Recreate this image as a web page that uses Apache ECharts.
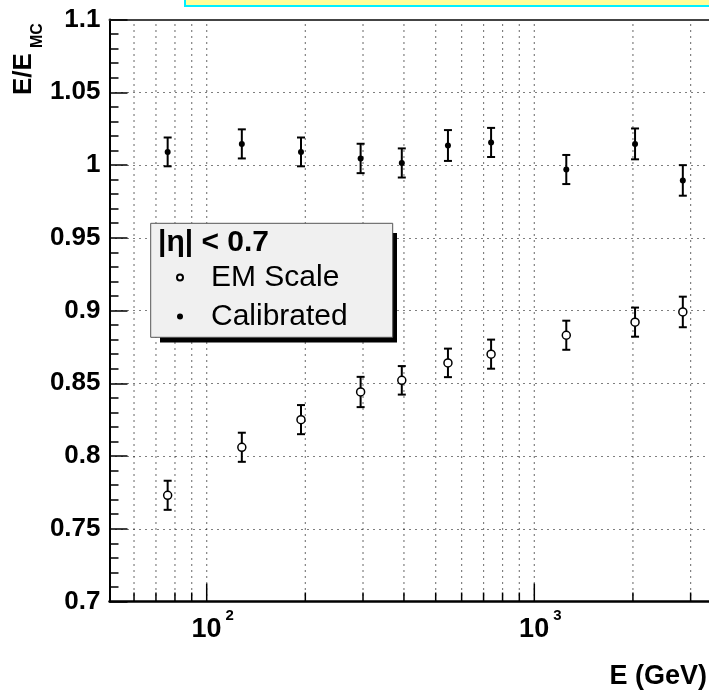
<!DOCTYPE html>
<html>
<head>
<meta charset="utf-8">
<title>E/E_MC vs E</title>
<script src="https://cdn.jsdelivr.net/npm/echarts@6.0.0/dist/echarts.min.js"></script>
<style>
    html, body { margin: 0; padding: 0; overflow: hidden; background: #fff; }
    #main { width: 800px; height: 691px; }
</style>
</head>
<body>
<div id="main"></div>
<script>
// data
var energy     = [76, 128, 194, 295, 394, 545, 738, 1252, 2030, 2840];
var emScale    = [0.773, 0.806, 0.825, 0.844, 0.852, 0.864, 0.870, 0.883, 0.892, 0.899];
var emErr      = [0.010, 0.010, 0.010, 0.0104, 0.0098, 0.0098, 0.010, 0.010, 0.010, 0.0105];
var calibrated = [1.009, 1.0145, 1.009, 1.0045, 1.0014, 1.0134, 1.0155, 0.9969, 1.0145, 0.9894];
var calErr     = [0.0099, 0.010, 0.0099, 0.0101, 0.010, 0.0106, 0.010, 0.010, 0.0106, 0.0105];

// log-axis ticks (grid lines at all of them)
var xMajorTicks = [100, 1000];
var xMinorTicks = [60, 70, 80, 90, 200, 300, 400, 500, 600, 700, 800, 900, 2000, 3000, 4000];

var F = "'Liberation Sans', Arial, Helvetica, sans-serif";
var yMin = 0.7, yMax = 1.1;
var xMin = 50.5, xMax = 5000;

function errData(vals, errs) {
    return energy.map(function (e, i) { return [e, vals[i] - errs[i], vals[i] + errs[i]]; });
}

function renderErr(params, api) {
    var x = api.value(0);
    var lo = api.coord([x, api.value(1)]);
    var hi = api.coord([x, api.value(2)]);
    var cap = 4;
    var st = { stroke: '#000', lineWidth: 2 };
    return {
        type: 'group',
        children: [
            { type: 'line', shape: { x1: lo[0], y1: lo[1], x2: hi[0], y2: hi[1] }, style: st },
            { type: 'line', shape: { x1: lo[0] - cap, y1: lo[1], x2: lo[0] + cap, y2: lo[1] }, style: st },
            { type: 'line', shape: { x1: hi[0] - cap, y1: hi[1], x2: hi[0] + cap, y2: hi[1] }, style: st }
        ]
    };
}

function renderTick(params, api) {
    var v = api.value(0);
    var major = xMajorTicks.indexOf(v) >= 0;
    var top = api.coord([v, yMax]);
    var bot = api.coord([v, yMin]);
    var len = major ? 18 : 9;
    return {
        type: 'group',
        children: [
            { type: 'line', shape: { x1: bot[0], y1: bot[1], x2: top[0], y2: top[1] },
              style: { stroke: '#000', lineWidth: 1.2, lineDash: [1, 5] } },
            { type: 'line', shape: { x1: bot[0], y1: bot[1], x2: bot[0], y2: bot[1] - len },
              style: { stroke: '#000', lineWidth: 1.5 } }
        ]
    };
}

var chart = echarts.init(document.getElementById('main'));

var option = {
    backgroundColor: '#fff',
    animation: false,
    grid: { left: 109.5, top: 19.5, width: 653.8, height: 582, outerBoundsMode: 'none', containLabel: false },
    legend: {
        orient: 'vertical',
        left: 176, top: 262.5,
        padding: 0,
        itemWidth: 6, itemHeight: 6, itemGap: 9,
        selectedMode: false,
        data: ['EM Scale', 'Calibrated'],
        textStyle: { fontSize: 30, fontFamily: F, color: '#000', padding: [0, 0, 0, 23] },
        z: 10
    },
    xAxis: [{
        type: 'log',
        logBase: 10,
        min: xMin, max: xMax,
        axisLine: { lineStyle: { color: '#000', width: 2.5 } },
        axisTick: { show: false },
        splitLine: { show: false },
        axisLabel: {
            margin: 7,
            formatter: function (v) {
                var p = Math.log10(v), r = Math.round(p);
                if (Math.abs(p - r) > 1e-6) return '';
                return '{p| }{b|10}{s|' + r + '}';
            },
            rich: {
                p: { width: 12 },
                b: { fontSize: 27, fontWeight: 'bold', color: '#000', fontFamily: F },
                s: { fontSize: 15, fontWeight: 'bold', color: '#000', fontFamily: F, padding: [0, 0, 28, 4] }
            }
        }
    }, {
        type: 'log',
        logBase: 10,
        position: 'top',
        min: xMin, max: xMax,
        axisLine: { lineStyle: { color: '#444', width: 2 } },
        axisTick: { show: false },
        axisLabel: { show: false },
        splitLine: { show: false }
    }],
    yAxis: {
        type: 'value',
        min: yMin, max: yMax, interval: 0.05,
        axisLine: { show: true, lineStyle: { color: '#000', width: 2 } },
        axisTick: { show: true, inside: true, length: 18, lineStyle: { color: '#000', width: 1.5 } },
        minorTick: { show: true, splitNumber: 5, length: 9, lineStyle: { color: '#000', width: 1.5 } },
        splitLine: { show: true, lineStyle: { color: '#000', width: 1.2, type: [1, 5] } },
        axisLabel: { fontSize: 26, fontWeight: 'bold', color: '#000', fontFamily: F, margin: 9 }
    },
    graphic: [
        // strip of the box above the frame
        { type: 'rect', shape: { x: 185, y: -3, width: 700, height: 9 },
          style: { fill: '#ffff99', stroke: '#00f0ff', lineWidth: 2 }, z: 5 },
        // legend box with its shadow
        { type: 'rect', shape: { x: 160, y: 233, width: 237, height: 109.5 },
          style: { fill: '#000' }, z: 5 },
        { type: 'rect', shape: { x: 150.7, y: 223.3, width: 242, height: 114 },
          style: { fill: '#f0f0f0', stroke: '#555', lineWidth: 1 }, z: 6 },
        { type: 'text', x: 158, y: 243, z: 7,
          style: { text: '|η| < 0.7', font: 'bold 30px ' + F, fill: '#000', textAlign: 'left', textVerticalAlign: 'middle' } },
        // axis titles
        { type: 'text', x: 24, y: 95, rotation: Math.PI / 2, z: 7,
          style: { text: 'E/E', font: 'bold 26px ' + F, fill: '#000', textAlign: 'left', textVerticalAlign: 'middle' } },
        { type: 'text', x: 37.5, y: 48, rotation: Math.PI / 2, z: 7,
          style: { text: 'MC', font: 'bold 16px ' + F, fill: '#000', textAlign: 'left', textVerticalAlign: 'middle' } },
        { type: 'text', x: 707, y: 677, z: 7,
          style: { text: 'E (GeV)', font: 'bold 27px ' + F, fill: '#000', textAlign: 'right', textVerticalAlign: 'middle' } }
    ],
    series: [
        {
            name: 'ticks',
            type: 'custom',
            renderItem: renderTick,
            data: xMajorTicks.concat(xMinorTicks).map(function (v) { return [v]; }),
            encode: { x: 0 },
            silent: true,
            z: 1
        },
        {
            name: 'emErr',
            type: 'custom',
            renderItem: renderErr,
            data: errData(emScale, emErr),
            encode: { x: 0, y: [1, 2] },
            silent: true,
            z: 3
        },
        {
            name: 'calErr',
            type: 'custom',
            renderItem: renderErr,
            data: errData(calibrated, calErr),
            encode: { x: 0, y: [1, 2] },
            silent: true,
            z: 3
        },
        {
            name: 'EM Scale',
            type: 'scatter',
            symbol: 'circle',
            symbolSize: 8,
            itemStyle: { color: '#fff', borderColor: '#000', borderWidth: 1.5, opacity: 1 },
            data: energy.map(function (e, i) { return [e, emScale[i]]; }),
            z: 4
        },
        {
            name: 'Calibrated',
            type: 'scatter',
            symbol: 'circle',
            symbolSize: 6,
            itemStyle: { color: '#000', opacity: 1 },
            data: energy.map(function (e, i) { return [e, calibrated[i]]; }),
            z: 4
        }
    ]
};

chart.setOption(option);
</script>
</body>
</html>
